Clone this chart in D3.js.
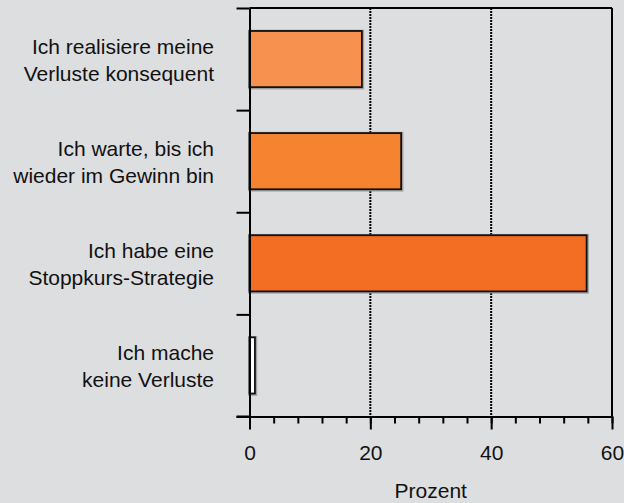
<!DOCTYPE html>
<html>
<head>
<meta charset="utf-8">
<script src="https://cdn.jsdelivr.net/npm/d3@7"></script>
<style>
  html, body { margin: 0; padding: 0; background: #dddee0; }
  svg { display: block; }
  text { font-family: "Liberation Sans", Arial, sans-serif; fill: #111; }
</style>
</head>
<body>
<div id="chart"></div>
<script>
// 1. DATA
const categories = [
    ["Ich realisiere meine", "Verluste konsequent"],
    ["Ich warte, bis ich", "wieder im Gewinn bin"],
    ["Ich habe eine", "Stoppkurs-Strategie"],
    ["Ich mache", "keine Verluste"]
];
const values = [18.6, 25.1, 55.8, 0.9];
const barColors = ["#f7914f", "#f5832f", "#f36d23", "#ffffff"];
const majorTicks = [0, 20, 40, 60];
const gridTicks = [20, 40];
const axisTitle = "Prozent";

// 2. SETUP
const width = 624;
const height = 503;
const margin = { top: 8, right: 12, bottom: 86.5, left: 249.5 };

const svg = d3.select("#chart")
    .append("svg")
    .attr("width", width)
    .attr("height", height)
    .attr("viewBox", [0, 0, width, height]);

svg.append("rect")
    .attr("width", width)
    .attr("height", height)
    .attr("fill", "#dddee0");

const x = d3.scaleLinear()
    .domain([0, 60])
    .range([margin.left, width - margin.right]);

const idx = d3.range(categories.length);

const y = d3.scaleBand()
    .domain(idx)
    .range([margin.top, height - margin.bottom])
    .paddingInner(0.45)
    .paddingOuter(0.225);

// band boundaries for the left ticks
const yEdge = d3.scaleLinear()
    .domain([0, categories.length])
    .range([margin.top, height - margin.bottom]);

const yBottom = height - margin.bottom;

// --- GRID LINES (dotted) ---
svg.append("g")
    .selectAll("line")
    .data(gridTicks)
    .join("line")
    .attr("x1", d => x(d))
    .attr("x2", d => x(d))
    .attr("y1", margin.top)
    .attr("y2", yBottom)
    .attr("stroke", "#000")
    .attr("stroke-width", 2)
    .attr("stroke-dasharray", "2,1");

// --- BARS ---
const bars = svg.append("g");

// soft shadow behind bars
bars.selectAll(".shadow")
    .data(values)
    .join("rect")
    .attr("class", "shadow")
    .attr("x", x(0) + 0.5)
    .attr("y", (d, i) => y(i) + 0.5)
    .attr("width", d => x(d) - x(0))
    .attr("height", y.bandwidth())
    .attr("fill", "none")
    .attr("stroke", "#8a8a8a")
    .attr("stroke-opacity", 0.7)
    .attr("stroke-width", 3.6);

bars.selectAll(".bar")
    .data(values)
    .join("rect")
    .attr("class", "bar")
    .attr("x", x(0))
    .attr("y", (d, i) => y(i))
    .attr("width", d => x(d) - x(0))
    .attr("height", y.bandwidth())
    .attr("fill", (d, i) => barColors[i])
    .attr("stroke", "#111")
    .attr("stroke-width", 1.8);

// --- FRAME ---
const frame = svg.append("g")
    .attr("stroke", "#000")
    .attr("stroke-width", 2)
    .attr("fill", "none");

frame.append("line")   // top
    .attr("x1", x(0)).attr("x2", x(60))
    .attr("y1", margin.top).attr("y2", margin.top);
frame.append("line")   // right
    .attr("x1", x(60)).attr("x2", x(60))
    .attr("y1", margin.top).attr("y2", yBottom);

// --- LEFT AXIS (ticks at band edges) ---
svg.append("g")
    .attr("transform", `translate(${x(0)},0)`)
    .call(d3.axisLeft(yEdge)
        .tickValues(d3.range(categories.length + 1))
        .tickSize(13)
        .tickSizeOuter(0)
        .tickFormat(""))
    .call(g => g.selectAll("line, path").attr("stroke", "#000").attr("stroke-width", 2));

// --- BOTTOM AXIS ---
svg.append("g")
    .attr("transform", `translate(0,${yBottom})`)
    .call(d3.axisBottom(x)
        .tickValues(d3.range(0, 61, 4))
        .tickSize(7)
        .tickSizeOuter(0)
        .tickFormat(""))
    .call(g => g.selectAll("line, path").attr("stroke", "#000").attr("stroke-width", 2));

svg.append("g")
    .attr("transform", `translate(0,${yBottom})`)
    .call(d3.axisBottom(x)
        .tickValues(majorTicks)
        .tickSize(13)
        .tickSizeOuter(0)
        .tickPadding(16))
    .call(g => g.select(".domain").remove())
    .call(g => g.selectAll("line").attr("stroke", "#000").attr("stroke-width", 2))
    .call(g => g.selectAll("text")
        .attr("font-family", "Liberation Sans, Arial, sans-serif")
        .attr("font-size", 21)
        .attr("fill", "#111"));

// extend bottom line to the left tick
svg.append("line")
    .attr("x1", x(0) - 13).attr("x2", x(0))
    .attr("y1", yBottom).attr("y2", yBottom)
    .attr("stroke", "#000").attr("stroke-width", 2);

// --- CATEGORY LABELS ---
const labels = svg.append("g")
    .selectAll("text")
    .data(categories)
    .join("text")
    .attr("text-anchor", "end")
    .attr("font-size", 21)
    .attr("x", 214)
    .attr("y", (d, i) => y(i) + y.bandwidth() / 2 - 5);

labels.selectAll("tspan")
    .data(d => d)
    .join("tspan")
    .attr("x", 214)
    .attr("dy", (d, j) => j === 0 ? 0 : 26.8)
    .text(d => d);

// --- AXIS TITLE ---
svg.append("text")
    .attr("x", (x(0) + x(60)) / 2)
    .attr("y", 498)
    .attr("text-anchor", "middle")
    .attr("font-size", 21)
    .text(axisTitle);
</script>
</body>
</html>
